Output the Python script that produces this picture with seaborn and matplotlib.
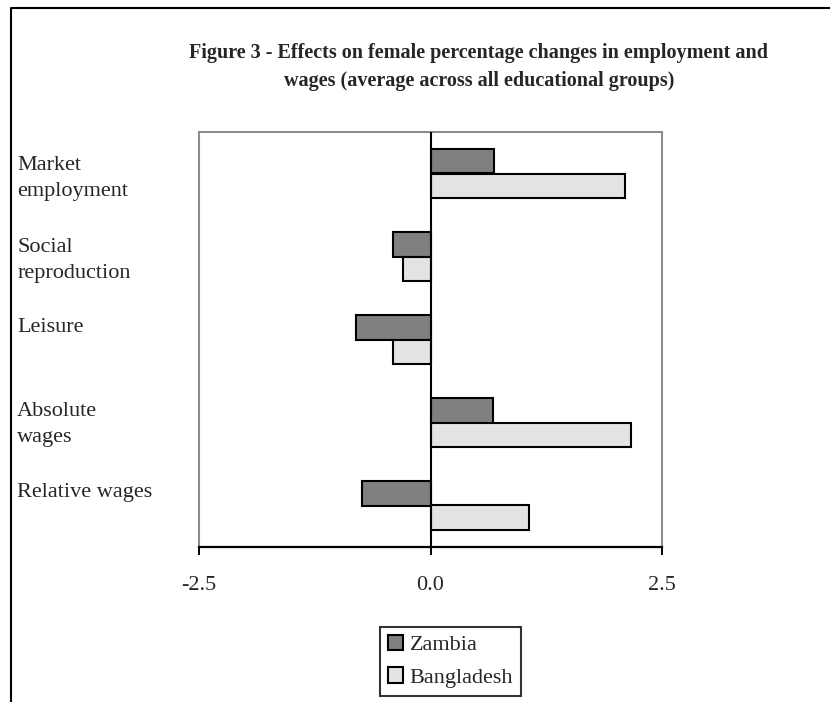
import pandas as pd
import matplotlib.pyplot as plt
import matplotlib.transforms as mtransforms
from matplotlib.lines import Line2D
import seaborn as sns

sns.set_style('white')
plt.rcParams['font.family'] = ['Liberation Serif', 'DejaVu Serif']
plt.rcParams['axes.unicode_minus'] = False

# data
categories = ['Market\nemployment', 'Social\nreproduction', 'Leisure',
              'Absolute\nwages', 'Relative wages']
zambia = [0.69, -0.41, -0.80, 0.67, -0.74]
bangladesh = [2.10, -0.30, -0.41, 2.17, 1.06]
countries = ['Zambia', 'Bangladesh']
x_ticks = [-2.5, 0.0, 2.5]

df = pd.DataFrame({
    'category': categories * 2,
    'value': zambia + bangladesh,
    'country': [countries[0]] * len(categories) + [countries[1]] * len(categories),
})

fig = plt.figure(figsize=(8.3, 7.02), dpi=100)
ax = fig.add_axes([199 / 830, 1 - 547 / 702, (662 - 199) / 830, (547 - 132) / 702])

sns.barplot(data=df, x='value', y='category', hue='country', order=categories,
            hue_order=countries, palette=['#808080', '#E3E3E3'], orient='h',
            width=0.58, edgecolor='black', linewidth=1.5, ax=ax)

ax.set_xlim(-2.5, 2.5)
ax.set_xticks(x_ticks)
ax.set_xticklabels([f'{t:.1f}' for t in x_ticks], fontsize=16)
ax.axvline(0, color='black', lw=1.5, zorder=3)
ax.set_xlabel('')
ax.set_ylabel('')

for side in ['left', 'top', 'right']:
    ax.spines[side].set_color('#8c8c8c')
    ax.spines[side].set_linewidth(1.5)
ax.spines['bottom'].set_color('black')
ax.spines['bottom'].set_linewidth(1.6)
ax.tick_params(axis='x', direction='out', length=6, width=1.4, color='black',
               pad=15, bottom=True)
ax.tick_params(axis='y', length=0, pad=131)

# category labels: left aligned at the figure edge, Excel-style placement
shifts = [1.5, 2.5, 14.5, 4.5, 15.5]
for lab, dy in zip(ax.get_yticklabels(), shifts):
    lab.set_horizontalalignment('left')
    lab.set_fontsize(16)
    lab.set_linespacing(1.52)
    lab.set_transform(lab.get_transform() +
                      mtransforms.ScaledTranslation(0, dy / 100, fig.dpi_scale_trans))

handles, labels = ax.get_legend_handles_labels()
ax.get_legend().remove()
leg = fig.legend(handles, labels, loc='upper left',
                 bbox_to_anchor=(380 / 830, 1 - 627 / 702), fontsize=16,
                 frameon=True, fancybox=False, handlelength=0.68, handleheight=0.68,
                 handletextpad=0.3, borderpad=0.35, labelspacing=0.55,
                 borderaxespad=0)
leg.get_frame().set_edgecolor('black')
leg.get_frame().set_linewidth(1.5)

fig.text(0.577, 1 - 67 / 702,
         'Figure 3 - Effects on female percentage changes in employment and\n'
         'wages (average across all educational groups)',
         ha='center', va='center', fontsize=14.5, fontweight='bold', linespacing=1.5)

# outer frame (left and top only)
fig.add_artist(Line2D([11 / 830, 11 / 830, 1], [0, 1 - 7.5 / 702, 1 - 7.5 / 702],
                      transform=fig.transFigure, color='black', lw=1.5))

fig.savefig('out.png', dpi=100)
